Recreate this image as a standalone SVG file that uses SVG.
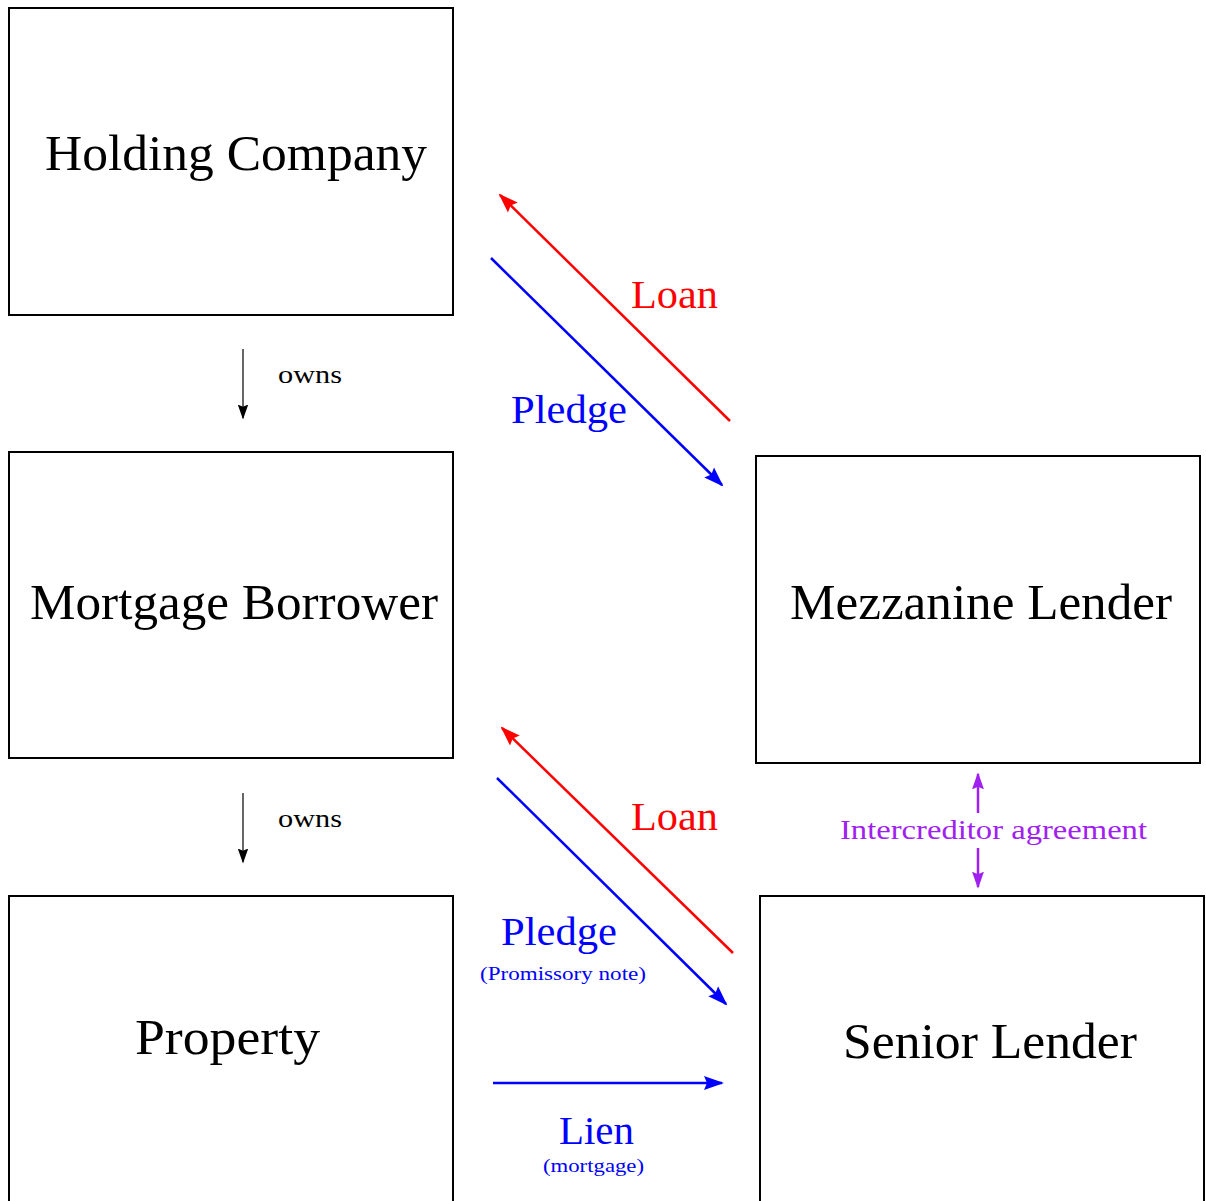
<svg xmlns="http://www.w3.org/2000/svg" width="1206" height="1201" viewBox="0 0 1206 1201">
<defs>
<style>
.box{fill:#fff;stroke:#000;stroke-width:2}
.t{font-family:"Liberation Serif","DejaVu Serif",serif}
.big{font-size:50px;fill:#000}
.lbl{font-size:41px}
.small{font-size:19px}
.owns{font-size:25px;fill:#000}
</style>
<marker id="ar" viewBox="0 0 10 10" refX="9" refY="5" markerUnits="userSpaceOnUse" markerWidth="20" markerHeight="20" orient="auto"><path d="M0,1.5 L10,5 L0,8.5 L1.5,5 Z" fill="#f00"/></marker>
<marker id="ab" viewBox="0 0 10 10" refX="9" refY="5" markerUnits="userSpaceOnUse" markerWidth="20" markerHeight="20" orient="auto"><path d="M0,1.5 L10,5 L0,8.5 L1.5,5 Z" fill="#00f"/></marker>
<marker id="ap" viewBox="0 0 10 10" refX="9" refY="5" markerUnits="userSpaceOnUse" markerWidth="17" markerHeight="17" orient="auto"><path d="M0,1.5 L10,5 L0,8.5 L1.5,5 Z" fill="#a020f0"/></marker>
<marker id="ak" viewBox="0 0 10 10" refX="9" refY="5" markerUnits="userSpaceOnUse" markerWidth="15" markerHeight="15" orient="auto"><path d="M0,1.5 L10,5 L0,8.5 L1.5,5 Z" fill="#000"/></marker>
</defs>
<rect width="1206" height="1201" fill="#fff"/>
<g id="holding"><rect class="box" x="9" y="8" width="444" height="307"/><text class="t big" x="45" y="170" textLength="382" lengthAdjust="spacingAndGlyphs">Holding Company</text></g>
<g id="borrower"><rect class="box" x="9" y="452" width="444" height="306"/><text class="t big" x="30" y="619" textLength="408" lengthAdjust="spacingAndGlyphs">Mortgage Borrower</text></g>
<g id="property"><rect class="box" x="9" y="896" width="444" height="310"/><text class="t big" x="135" y="1054" textLength="185" lengthAdjust="spacingAndGlyphs">Property</text></g>
<g id="mezz"><rect class="box" x="756" y="456" width="444" height="307"/><text class="t big" x="790" y="619" textLength="382" lengthAdjust="spacingAndGlyphs">Mezzanine Lender</text></g>
<g id="senior"><rect class="box" x="760" y="896" width="444" height="310"/><text class="t big" x="843" y="1058" textLength="294" lengthAdjust="spacingAndGlyphs">Senior Lender</text></g>
<g id="connectors" fill="none">
<line x1="243" y1="349" x2="243" y2="418" stroke="#000" stroke-width="1.2" marker-end="url(#ak)"/>
<line x1="243" y1="793" x2="243" y2="862" stroke="#000" stroke-width="1.2" marker-end="url(#ak)"/>
<line x1="730" y1="421" x2="500" y2="195" stroke="#f00" stroke-width="2.5" marker-end="url(#ar)"/>
<line x1="491" y1="258" x2="722" y2="485" stroke="#00f" stroke-width="2.5" marker-end="url(#ab)"/>
<line x1="733" y1="953" x2="502" y2="728" stroke="#f00" stroke-width="2.5" marker-end="url(#ar)"/>
<line x1="497" y1="778" x2="726" y2="1004" stroke="#00f" stroke-width="2.5" marker-end="url(#ab)"/>
<line x1="493" y1="1083" x2="722" y2="1083" stroke="#00f" stroke-width="2.5" marker-end="url(#ab)"/>
<line x1="978" y1="813" x2="978" y2="774" stroke="#a020f0" stroke-width="2.5" marker-end="url(#ap)"/>
<line x1="978" y1="848" x2="978" y2="887" stroke="#a020f0" stroke-width="2.5" marker-end="url(#ap)"/>
</g>
<g id="labels">
<text class="t owns" x="278" y="383" textLength="64" lengthAdjust="spacingAndGlyphs">owns</text>
<text class="t owns" x="278" y="827" textLength="64" lengthAdjust="spacingAndGlyphs">owns</text>
<text class="t lbl" x="631" y="308" fill="#f00" textLength="87" lengthAdjust="spacingAndGlyphs">Loan</text>
<text class="t lbl" x="511" y="423" fill="#00f" textLength="116" lengthAdjust="spacingAndGlyphs">Pledge</text>
<text class="t lbl" x="631" y="830" fill="#f00" textLength="87" lengthAdjust="spacingAndGlyphs">Loan</text>
<text class="t lbl" x="501" y="945" fill="#00f" textLength="116" lengthAdjust="spacingAndGlyphs">Pledge</text>
<text class="t small" x="480" y="980" fill="#00f" textLength="166" lengthAdjust="spacingAndGlyphs">(Promissory note)</text>
<text class="t lbl" x="559" y="1144" fill="#00f" textLength="75" lengthAdjust="spacingAndGlyphs">Lien</text>
<text class="t small" x="543" y="1172" fill="#00f" textLength="101" lengthAdjust="spacingAndGlyphs">(mortgage)</text>
<text class="t" x="840" y="839" fill="#a020f0" font-size="27" textLength="307" lengthAdjust="spacingAndGlyphs">Intercreditor agreement</text>
</g>
</svg>
